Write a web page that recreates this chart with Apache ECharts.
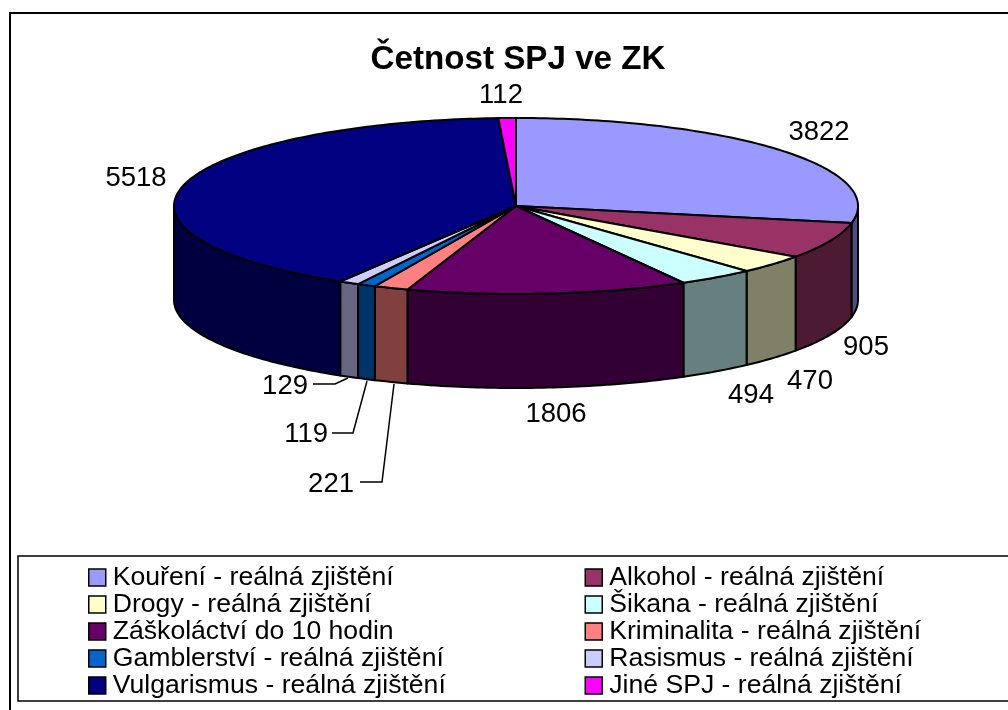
<!DOCTYPE html>
<html><head><meta charset="utf-8">
<style>html,body{margin:0;padding:0;background:#fff}#c{width:1008px;height:710px}</style>
<script src="https://cdn.jsdelivr.net/npm/echarts@6/dist/echarts.min.js"></script>
</head><body><div id="c"></div>
<script>
const categories = ['Kouření - reálná zjištění','Alkohol - reálná zjištění','Drogy - reálná zjištění','Šikana - reálná zjištění','Záškoláctví do 10 hodin','Kriminalita - reálná zjištění','Gamblerství - reálná zjištění','Rasismus - reálná zjištění','Vulgarismus - reálná zjištění','Jiné SPJ - reálná zjištění'];
const values = [3822,905,470,494,1806,221,119,129,5518,112];
const topColors = ['#9999FF','#993366','#FFFFCC','#CCFFFF','#660066','#FF8080','#0066CC','#CCCCFF','#000080','#FF00FF'];
const sideColors = ['#4D4D80','#4D1A33','#808066','#668080','#330033','#804040','#003366','#666680','#000040','#800080'];
const legendLeft = [0,2,4,6,8].map(i=>categories[i]);
const legendRight = [1,3,5,7,9].map(i=>categories[i]);
const labelPlace = [[819,132,'center'],[866,347,'center'],[810,381,'center'],[751,395,'center'],[556,414,'center'],[354,484,'right'],[328,434,'right'],[308,386,'right'],[136,178,'center'],[501,95,'center']];
const leaders = {5:[[360,482],[382,482],[394,384]],6:[[332,433],[353,433],[367,381]],7:[[313,384],[335,384],[348,378]]};

const CX=516, CY=206, RX=342, RY=88, DEPTH=94, FS=27.5, LFS=26.6, FONT='"Liberation Sans",Arial,sans-serif';
const total = values.reduce((a,b)=>a+b,0);
const pt=(deg,dy=0)=>{const r=deg*Math.PI/180;return [CX+RX*Math.sin(r),CY-RY*Math.cos(r)+dy];};
const arc=(a,b,dy=0)=>{const n=Math.max(2,Math.ceil(Math.abs(b-a)));const o=[];for(let i=0;i<=n;i++)o.push(pt(a+(b-a)*i/n,dy));return o;};

function renderSlice(idx){
  return function(params,api){
    const v=api.value(0);
    let before=0; for(let i=0;i<idx;i++) before+=values[i];
    const a=before/total*360, b=(before+v)/total*360;
    const children=[];
    const fa=Math.max(a,90), fb=Math.min(b,270);
    const edge={stroke:'#000',lineWidth:2,lineJoin:'round'};
    if(fb>fa){
      const top=arc(fa,fb), bot=arc(fb,fa,DEPTH);
      children.push({type:'polygon',shape:{points:top.concat(bot)},style:Object.assign({fill:sideColors[idx]},edge)});
    }
    children.push({type:'polygon',shape:{points:[[CX,CY]].concat(arc(a,b))},style:Object.assign({fill:topColors[idx]},edge)});
    if(leaders[idx]) children.push({type:'polyline',shape:{points:leaders[idx]},style:{fill:null,stroke:'#000',lineWidth:1.5}});
    const p=labelPlace[idx];
    children.push({type:'text',x:p[0],y:p[1],style:{text:String(v),fill:'#000',font:FS+'px '+FONT,align:p[2],verticalAlign:'middle'}});
    return {type:'group',children};
  };
}

const legendBase={orient:'vertical',selectedMode:false,icon:'rect',itemWidth:17,itemHeight:17,itemGap:0,
  formatter:'{t|{name}}',
  textStyle:{fontFamily:FONT,fontSize:LFS,color:'#000',lineHeight:26.5,rich:{t:{fontFamily:FONT,fontSize:LFS,color:'#000',lineHeight:26.5,padding:[0,0,0,2]}}},
  itemStyle:{borderColor:'#000',borderWidth:1.5},padding:0};

const chart=echarts.init(document.getElementById('c'),null,{renderer:'canvas'});
chart.setOption({
  animation:false,
  backgroundColor:'#fff',
  title:{text:'Četnost SPJ ve ZK',left:513,top:38,textAlign:'center',textStyle:{fontFamily:FONT,fontSize:33.2,fontWeight:'bold',color:'#000'}},
  legend:[Object.assign({},legendBase,{data:legendLeft,left:88,top:564}),Object.assign({},legendBase,{data:legendRight,left:584.5,top:564})],
  graphic:[
    {type:'rect',z:-1,shape:{x:10,y:13,width:1020,height:720},style:{fill:'#fff',stroke:'#000',lineWidth:2}},
    {type:'rect',z:-1,shape:{x:18,y:556,width:1020,height:145},style:{fill:'#fff',stroke:'#000',lineWidth:1.5}}
  ],
  series:categories.map((name,i)=>({type:'custom',name,coordinateSystem:'none',silent:true,z:5,
    itemStyle:{color:topColors[i]},data:[[values[i]]],renderItem:renderSlice(i)}))
});
</script></body></html>
